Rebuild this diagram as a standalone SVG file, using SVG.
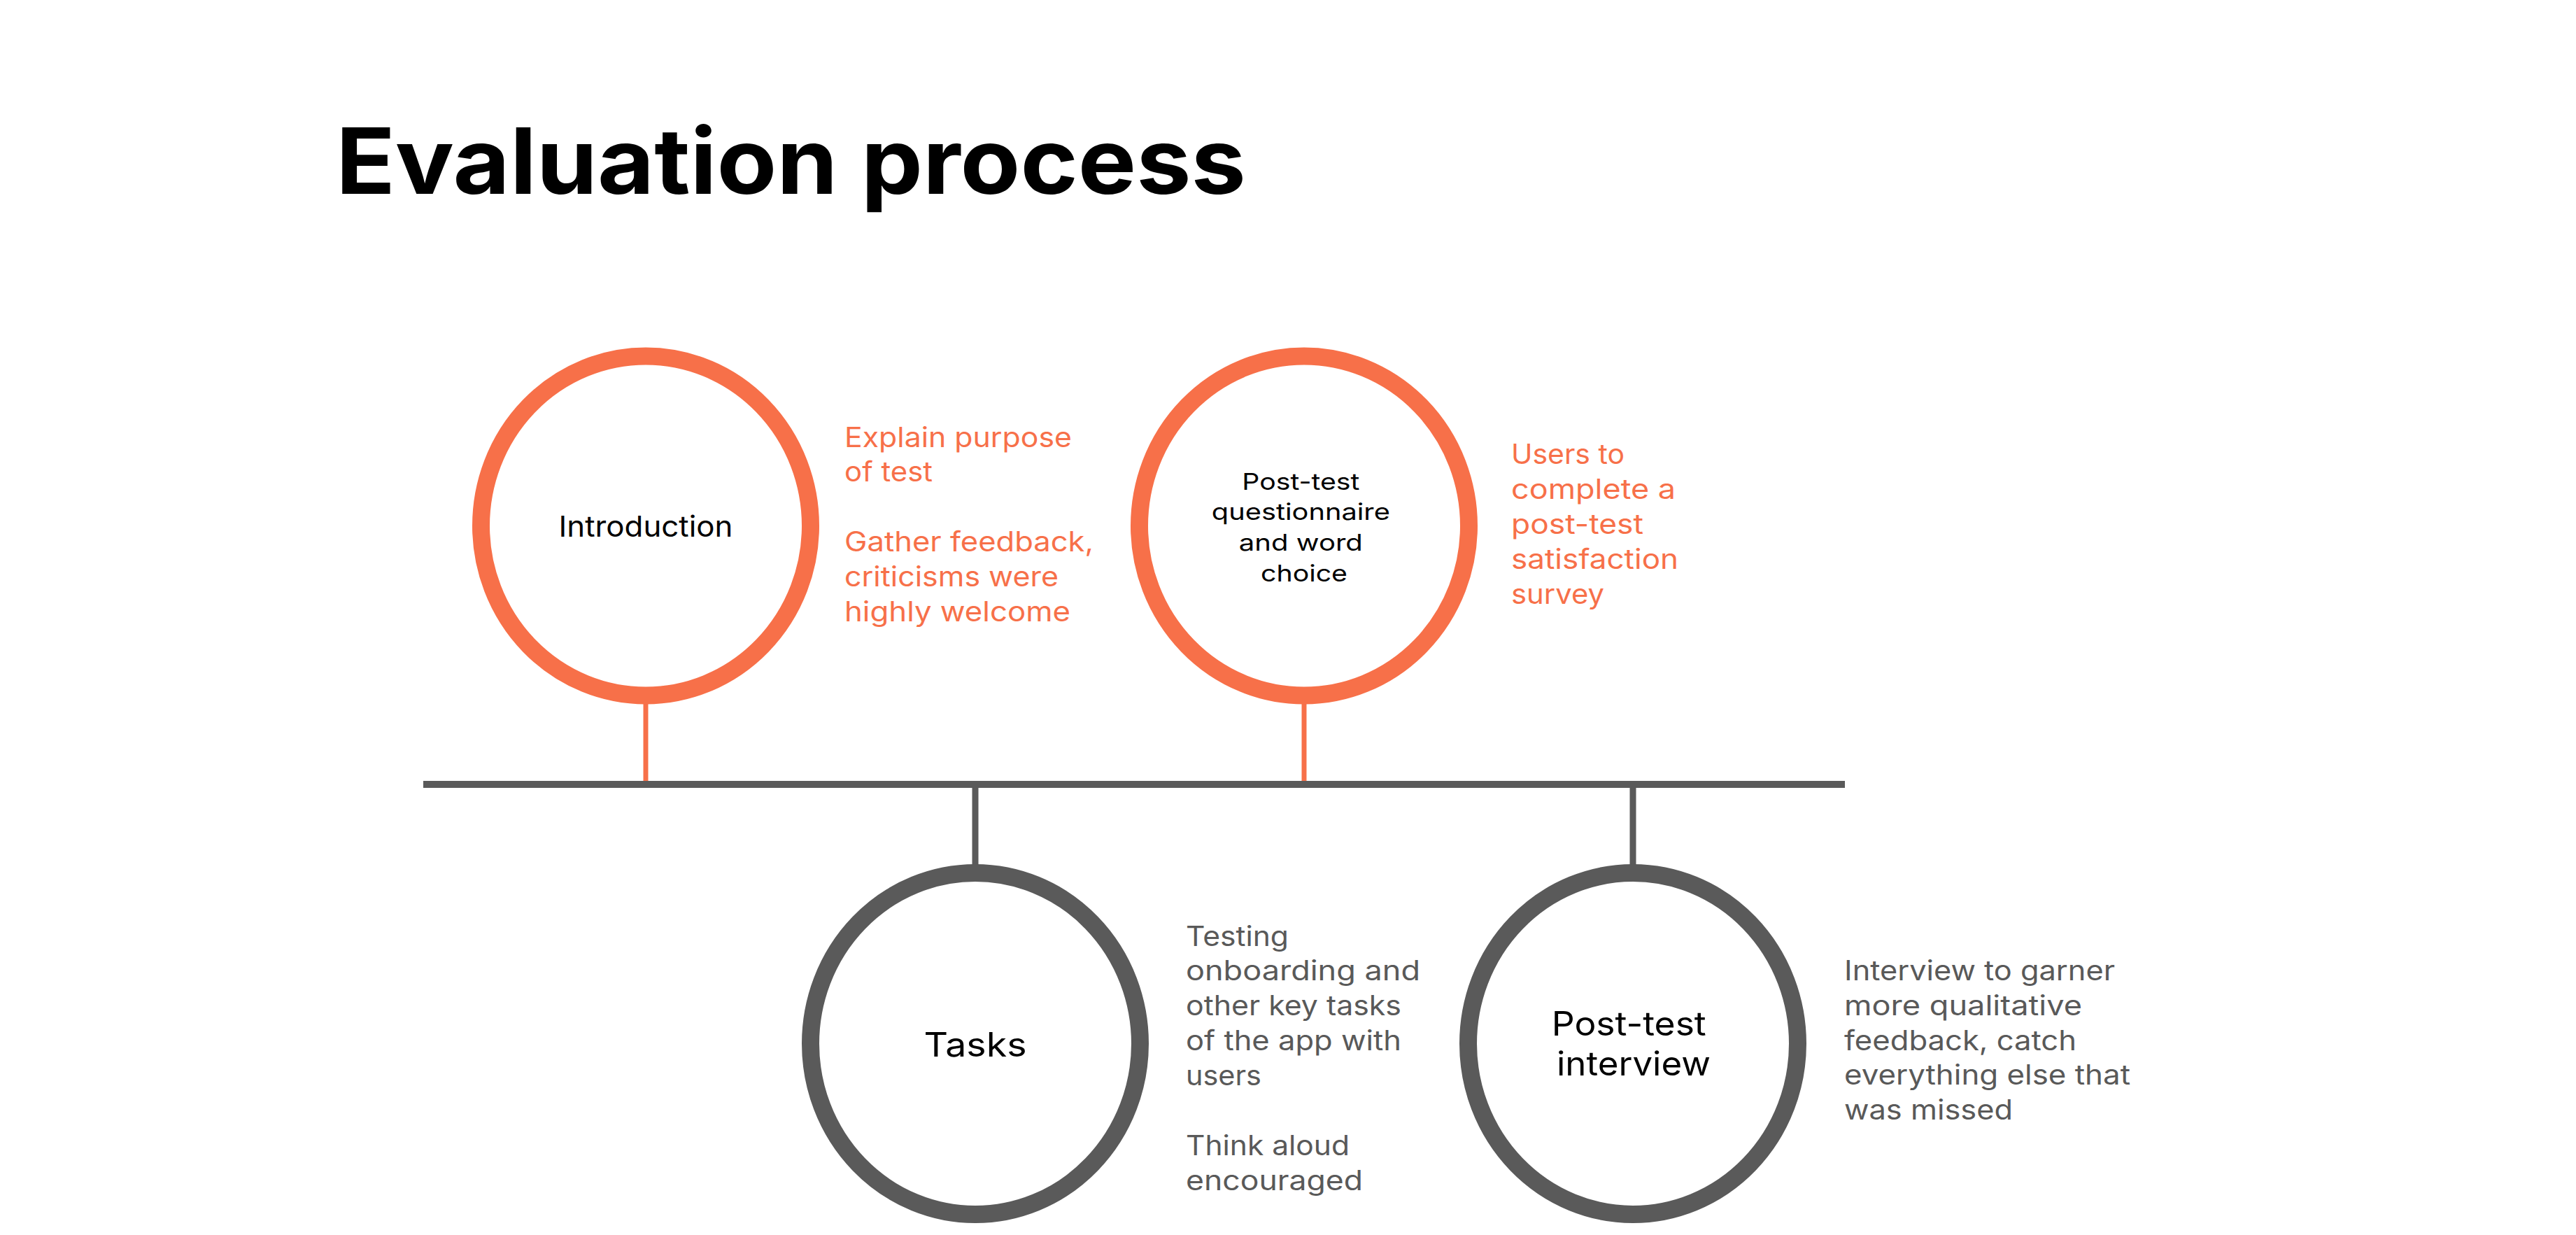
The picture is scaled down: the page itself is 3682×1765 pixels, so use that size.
<svg xmlns="http://www.w3.org/2000/svg" width="3682" height="1765" viewBox="0 0 3682 1765">
<style>
.bg{fill:#ffffff}
.title{font-family:Inter,"Liberation Sans",sans-serif;font-weight:700;font-size:130px;fill:#000}
.ring-o{fill:#ffffff;stroke:#F77049;stroke-width:25}
.ring-g{fill:#ffffff;stroke:#5A5A5A;stroke-width:25}
.lbl{font-family:Inter,"Liberation Sans",sans-serif;fill:#000;text-anchor:middle}
.note-o{font-family:Inter,"Liberation Sans",sans-serif;font-size:39px;fill:#F77049}
.note-g{font-family:Inter,"Liberation Sans",sans-serif;font-size:39px;fill:#595959}
.stem-o{stroke:#F77049;stroke-width:7}
.stem-g{stroke:#5A5A5A;stroke-width:9}
.axis{stroke:#5A5A5A;stroke-width:10}
</style>
<rect class="bg" x="0" y="0" width="3682" height="1765"/>
<text id="title" class="title" x="480" y="277" textLength="1301" lengthAdjust="spacingAndGlyphs">Evaluation process</text>

<g id="connectors">
  <line class="axis" x1="605" y1="1121" x2="2637" y2="1121"/>
  <line class="stem-o" x1="923" y1="1000" x2="923" y2="1116"/>
  <line class="stem-o" x1="1864" y1="1000" x2="1864" y2="1116"/>
  <line class="stem-g" x1="1394" y1="1126" x2="1394" y2="1240"/>
  <line class="stem-g" x1="2334" y1="1126" x2="2334" y2="1240"/>
</g>

<g id="node-introduction">
  <ellipse class="ring-o" cx="923" cy="751.5" rx="235.5" ry="242.5"/>
  <text class="lbl" x="923" y="767" font-size="41" textLength="249" lengthAdjust="spacingAndGlyphs">Introduction</text>
  <text class="note-o" lengthAdjust="spacingAndGlyphs">
    <tspan x="1207" y="639" textLength="325" lengthAdjust="spacingAndGlyphs">Explain purpose</tspan>
    <tspan x="1207" y="688" textLength="126" lengthAdjust="spacingAndGlyphs">of test</tspan>
    <tspan x="1207" y="788" textLength="356" lengthAdjust="spacingAndGlyphs">Gather feedback,</tspan>
    <tspan x="1207" y="838" textLength="306" lengthAdjust="spacingAndGlyphs">criticisms were</tspan>
    <tspan x="1207" y="888" textLength="323" lengthAdjust="spacingAndGlyphs">highly welcome</tspan>
  </text>
</g>

<g id="node-questionnaire">
  <ellipse class="ring-o" cx="1864" cy="751.5" rx="235.5" ry="242.5"/>
  <text class="lbl" font-size="33">
    <tspan x="1864" y="700" textLength="168" lengthAdjust="spacingAndGlyphs">Post-test</tspan>
    <tspan x="1864" y="743" textLength="255" lengthAdjust="spacingAndGlyphs">questionnaire</tspan>
    <tspan x="1864" y="787" textLength="177" lengthAdjust="spacingAndGlyphs">and word</tspan>
    <tspan x="1864" y="831" textLength="124" lengthAdjust="spacingAndGlyphs">choice</tspan>
  </text>
  <text class="note-o">
    <tspan x="2160" y="663" textLength="162" lengthAdjust="spacingAndGlyphs">Users to</tspan>
    <tspan x="2160" y="713" textLength="235" lengthAdjust="spacingAndGlyphs">complete a</tspan>
    <tspan x="2160" y="763" textLength="189" lengthAdjust="spacingAndGlyphs">post-test</tspan>
    <tspan x="2160" y="813" textLength="239" lengthAdjust="spacingAndGlyphs">satisfaction</tspan>
    <tspan x="2160" y="863" textLength="133" lengthAdjust="spacingAndGlyphs">survey</tspan>
  </text>
</g>

<g id="node-tasks">
  <ellipse class="ring-g" cx="1394" cy="1491.5" rx="235.5" ry="244"/>
  <text class="lbl" x="1394" y="1510" font-size="48" textLength="147" lengthAdjust="spacingAndGlyphs">Tasks</text>
  <text class="note-g">
    <tspan x="1695" y="1352" textLength="147" lengthAdjust="spacingAndGlyphs">Testing</tspan>
    <tspan x="1695" y="1401" textLength="335" lengthAdjust="spacingAndGlyphs">onboarding and</tspan>
    <tspan x="1695" y="1451" textLength="308" lengthAdjust="spacingAndGlyphs">other key tasks</tspan>
    <tspan x="1695" y="1501" textLength="308" lengthAdjust="spacingAndGlyphs">of the app with</tspan>
    <tspan x="1695" y="1551" textLength="108" lengthAdjust="spacingAndGlyphs">users</tspan>
    <tspan x="1695" y="1651" textLength="234" lengthAdjust="spacingAndGlyphs">Think aloud</tspan>
    <tspan x="1695" y="1701" textLength="253" lengthAdjust="spacingAndGlyphs">encouraged</tspan>
  </text>
</g>

<g id="node-interview">
  <ellipse class="ring-g" cx="2334" cy="1491.5" rx="235.5" ry="244"/>
  <text class="lbl" font-size="48">
    <tspan x="2335" y="1480" textLength="221" lengthAdjust="spacingAndGlyphs">Post-test</tspan>
    <tspan x="2335" y="1537" textLength="220" lengthAdjust="spacingAndGlyphs">interview</tspan>
  </text>
  <text class="note-g">
    <tspan x="2636" y="1401" textLength="387" lengthAdjust="spacingAndGlyphs">Interview to garner</tspan>
    <tspan x="2636" y="1451" textLength="340" lengthAdjust="spacingAndGlyphs">more qualitative</tspan>
    <tspan x="2636" y="1501" textLength="332" lengthAdjust="spacingAndGlyphs">feedback, catch</tspan>
    <tspan x="2636" y="1550" textLength="409" lengthAdjust="spacingAndGlyphs">everything else that</tspan>
    <tspan x="2636" y="1600" textLength="241" lengthAdjust="spacingAndGlyphs">was missed</tspan>
  </text>
</g>
</svg>
